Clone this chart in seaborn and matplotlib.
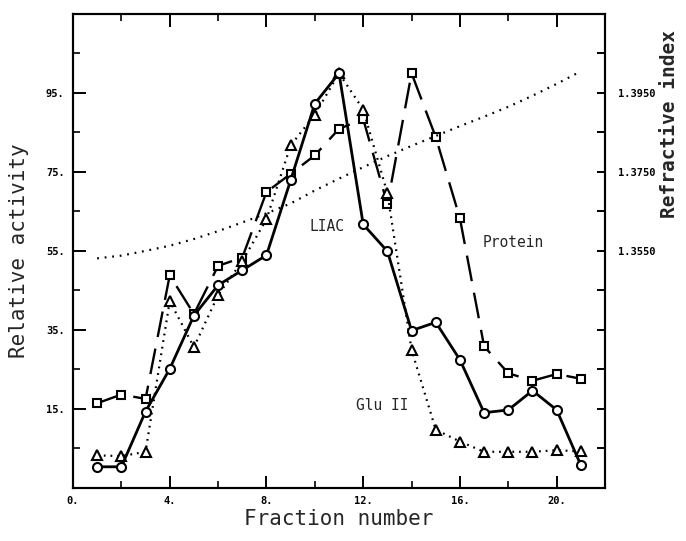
import matplotlib
matplotlib.use("Agg")
import matplotlib.pyplot as plt
import matplotlib.ticker as mticker
import pandas as pd
import seaborn as sns

# Fraction numbers collected from the column
fractions = list(range(1, 22))

# Relative activities (% of maximum)
liac = [0.3, 0.3, 14.3, 25.1, 38.6, 46.3, 50.1, 53.9, 72.9, 92.3, 100.0,
        61.7, 54.9, 34.8, 36.9, 27.4, 14.0, 14.7, 19.6, 14.7, 0.7]
glu2 = [3.2, 3.0, 4.1, 42.3, 30.6, 43.8, 52.4, 63.0, 81.7, 89.5, 100.0,
        90.8, 69.6, 29.9, 9.7, 6.7, 4.1, 4.1, 4.1, 4.5, 4.2]
protein = [16.4, 18.6, 17.5, 48.8, 39.0, 51.2, 53.3, 69.9, 74.5, 79.2, 85.9,
           88.4, 66.8, 100.0, 83.8, 63.2, 30.8, 24.0, 22.1, 23.8, 22.6]

# Refractive index of each fraction (sucrose gradient)
refractive = [1.3531, 1.3538, 1.3550, 1.3563, 1.3580, 1.3600, 1.3622, 1.3645,
              1.3670, 1.3703, 1.3733, 1.3762, 1.3790, 1.3816, 1.3841, 1.3866,
              1.3890, 1.3915, 1.3943, 1.3973, 1.4005]

x_major = [0, 4, 8, 12, 16, 20]
y_major = [15, 35, 55, 75, 95]
ri_major = [1.3550, 1.3750, 1.3950]

df = pd.DataFrame({"fraction": fractions, "LIAC": liac, "Glu II": glu2,
                   "Protein": protein, "ri": refractive})

sns.set_style("ticks")
plt.rcParams["font.family"] = ["DejaVu Sans Mono", "DejaVu Sans"]

fig = plt.figure(figsize=(6.86, 5.41), dpi=100)
ax = fig.add_axes([0.1064, 0.0985, 0.7756, 0.8756])
ax2 = ax.twinx()

k = "black"
sns.lineplot(data=df, x="fraction", y="Protein", ax=ax, color=k, lw=1.7,
             marker="s", markersize=5.5, markerfacecolor="white",
             markeredgecolor=k, markeredgewidth=1.5, dashes=False,
             linestyle=(0, (11, 5)), zorder=3)
sns.lineplot(data=df, x="fraction", y="Glu II", ax=ax, color=k, lw=1.6,
             marker="^", markersize=7.0, markerfacecolor="white",
             markeredgecolor=k, markeredgewidth=1.5, dashes=False,
             linestyle=(0, (0.8, 2.2)), zorder=4)
sns.lineplot(data=df, x="fraction", y="LIAC", ax=ax, color=k, lw=2.0,
             marker="o", markersize=6.5, markerfacecolor="white",
             markeredgecolor=k, markeredgewidth=1.5, zorder=5)
sns.lineplot(data=df, x="fraction", y="ri", ax=ax2, color=k, lw=1.6,
             dashes=False, linestyle=(0, (0.8, 2.6)), zorder=2)

ax.set_xlim(0, 22)
ax.set_ylim(-5, 115)
ax2.set_ylim(1.2950, 1.4150)

ax.xaxis.set_major_locator(mticker.FixedLocator(x_major))
ax.xaxis.set_minor_locator(mticker.FixedLocator([2, 6, 10, 14, 18]))
ax.xaxis.set_major_formatter(mticker.FuncFormatter(lambda v, p: f"{v:.0f}."))
ax.yaxis.set_major_locator(mticker.FixedLocator(y_major))
ax.yaxis.set_minor_locator(mticker.FixedLocator([5, 25, 45, 65, 85, 105]))
ax.yaxis.set_major_formatter(mticker.FuncFormatter(lambda v, p: f"{v:.0f}."))

ax2.yaxis.set_major_locator(mticker.FixedLocator(ri_major))
ax2.yaxis.set_minor_locator(mticker.FixedLocator(
    [1.3050, 1.3150, 1.3250, 1.3350, 1.3450, 1.3650, 1.3850, 1.4050]))
ax2.yaxis.set_major_formatter(mticker.FuncFormatter(lambda v, p: f"{v:.4f}"))

for a in (ax, ax2):
    for s in a.spines.values():
        s.set_visible(True)
        s.set_linewidth(1.5)
        s.set_color(k)

ax.tick_params(axis="both", which="major", direction="in", length=9, width=1.4,
               top=True, labelsize=7.5, pad=6, colors=k)
ax.tick_params(axis="both", which="minor", direction="in", length=5, width=1.4,
               top=True)
ax.tick_params(axis="y", right=False, which="both")
ax2.tick_params(axis="y", which="both", direction="in", length=6, width=1.4,
                labelsize=7.5, pad=9, colors=k)
for lab in ax.get_xticklabels() + ax.get_yticklabels() + ax2.get_yticklabels():
    lab.set_fontweight("bold")

ax.set_xlabel("Fraction number", fontsize=15, labelpad=2)
ax.set_ylabel("Relative activity", fontsize=15, labelpad=12)
ax2.set_ylabel("")
fig.text(0.976, 0.77, "Refractive index", rotation=90, fontsize=14,
         fontweight="bold", ha="center", va="center")

ax.text(9.8, 61.2, "LIAC", fontsize=10.5, va="center")
ax.text(16.95, 57.2, "Protein", fontsize=10.5, va="center")
ax.text(11.7, 15.8, "Glu II", fontsize=10.5, va="center")

fig.savefig("out.png", dpi=100)
